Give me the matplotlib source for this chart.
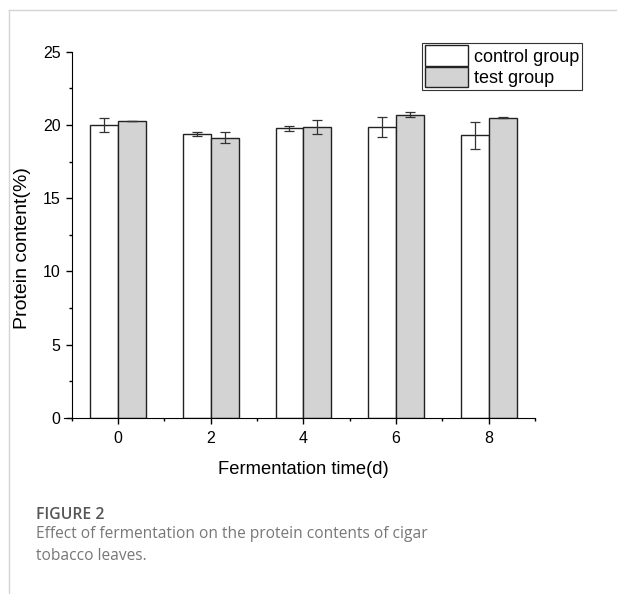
import matplotlib.pyplot as plt
from matplotlib.lines import Line2D
from matplotlib.ticker import MultipleLocator

# dati
days = [0, 2, 4, 6, 8]
control = [20.0, 19.36, 19.77, 19.89, 19.30]
control_err = [0.50, 0.14, 0.16, 0.68, 0.93]
test = [20.27, 19.14, 19.86, 20.70, 20.48]
test_err = [0.02, 0.39, 0.51, 0.15, 0.03]

plt.rcParams['font.family'] = ['Liberation Sans', 'DejaVu Sans']

fig = plt.figure(figsize=(6.17, 5.94), dpi=100)
ax = fig.add_axes([0.1162, 0.2963, 0.7510, 0.6167])

w = 0.6
err_kw = dict(ecolor='#333333', elinewidth=0.9, capsize=3.5, capthick=0.9)
ax.bar(days, control, width=-w, align='edge', color='white', edgecolor='#222222',
       linewidth=1.0, yerr=control_err, error_kw=err_kw, label='control group')
ax.bar(days, test, width=w, align='edge', color='#d3d3d3', edgecolor='#222222',
       linewidth=1.0, yerr=test_err, error_kw=err_kw, label='test group')

ax.set_xlim(-1, 9)
ax.set_ylim(0, 25)
ax.spines['top'].set_visible(False)
ax.spines['right'].set_visible(False)
ax.spines['bottom'].set_bounds(-1.17, 9)
ax.set_xticks(days)
ax.xaxis.set_minor_locator(MultipleLocator(2, offset=1))
ax.yaxis.set_major_locator(MultipleLocator(5))
ax.yaxis.set_minor_locator(MultipleLocator(2.5))
ax.tick_params(which='major', length=4.5, width=1, labelsize=11.5)
ax.tick_params(axis='x', which='major', pad=5)
ax.tick_params(which='minor', length=2.5, width=1)
ax.set_xlabel('Fermentation time(d)', fontsize=13.2, labelpad=11)
ax.set_ylabel('Protein content(%)', fontsize=14)
# etichetta y un po' più in basso come nell'originale
ax.yaxis.set_label_coords(-0.088, 0.464)

ax.legend(loc='upper right', bbox_to_anchor=(0.943, 0.928), bbox_transform=fig.transFigure,
          borderaxespad=0, fontsize=13, handlelength=2.4, handleheight=1.35,
          labelspacing=0.05, borderpad=0.15, handletextpad=0.3, fancybox=False,
          edgecolor='#333333', framealpha=1).get_frame().set_linewidth(0.8)

# cornice grigia della pagina
fig.add_artist(Line2D([9/617, 9/617], [0, 1 - 10/594], color='#d4d4d4', lw=1))
fig.add_artist(Line2D([9/617, 1], [1 - 10/594, 1 - 10/594], color='#d4d4d4', lw=1))

fig.text(36/617, 1 - 515/594, 'FIGURE 2', fontsize=11.3, color='#555555',
         family=['Open Sans', 'DejaVu Sans'], weight='semibold', va='center')
fig.text(36/617, 1 - 545/594, 'Effect of fermentation on the protein contents of cigar\ntobacco leaves.',
         fontsize=11.2, color='#777777', family=['Open Sans', 'DejaVu Sans'],
         va='center', linespacing=1.45)

fig.savefig('out.png', dpi=100)
